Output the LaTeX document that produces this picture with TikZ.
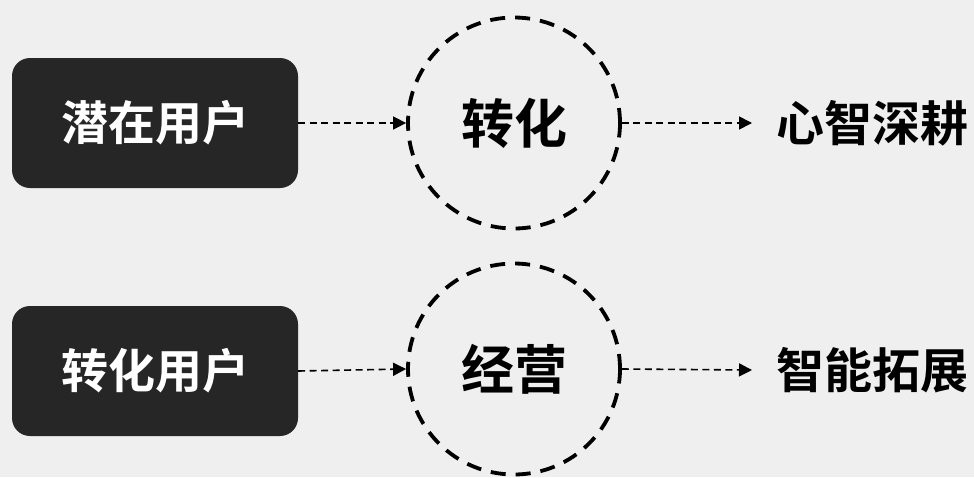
\documentclass[tikz,border=0pt]{standalone}
\usepackage{fontspec}
\newfontfamily\cjk{Noto Sans CJK SC}[BoldFont={Noto Sans CJK SC Bold}]
\usetikzlibrary{arrows.meta,shapes.geometric}
\definecolor{bgc}{HTML}{EFEFEF}
\definecolor{boxc}{HTML}{262626}
\tikzset{
  userbox/.style={draw=none,fill=boxc,rounded corners=18pt,minimum width=286pt,minimum height=130pt,inner sep=0pt,text=white,font=\cjk\bfseries\fontsize{47}{47}\selectfont},
  ring/.style={draw=black,ellipse,line width=3.8pt,dash pattern=on 15pt off 10pt,minimum width=212pt,minimum height=211pt,inner sep=0pt,font=\cjk\bfseries\fontsize{53}{53}\selectfont},
  goal/.style={anchor=west,inner sep=0pt,font=\cjk\bfseries\fontsize{48}{48}\selectfont},
  conn/.style={line width=1.6pt,dash pattern=on 7pt off 4.5pt,-{Triangle[length=13pt,width=13pt]}}
}
\begin{document}
\begin{tikzpicture}[x=1pt,y=-1pt]
\fill[bgc] (0,0) rectangle (974,477);
\useasboundingbox (0,0) rectangle (974,477);
\node[userbox] (u1) at (155,123) {潜在用户};
\node[userbox] (u2) at (155,371) {转化用户};
\node[ring] (c1) at (514,123) {转化};
\node[ring] (c2) at (514,369) {经营};
\node[goal] (g1) at (776,123) {心智深耕};
\node[goal] (g2) at (776,370) {智能拓展};
\coordinate (e1) at (752,123);
\coordinate (e2) at (752,370);
\draw[conn] (u1.east) -- (c1.west);
\draw[conn] (u2.east) -- (c2.west);
\draw[conn] (c1.east) -- (e1);
\draw[conn] (c2.east) -- (e2);
\end{tikzpicture}
\end{document}
